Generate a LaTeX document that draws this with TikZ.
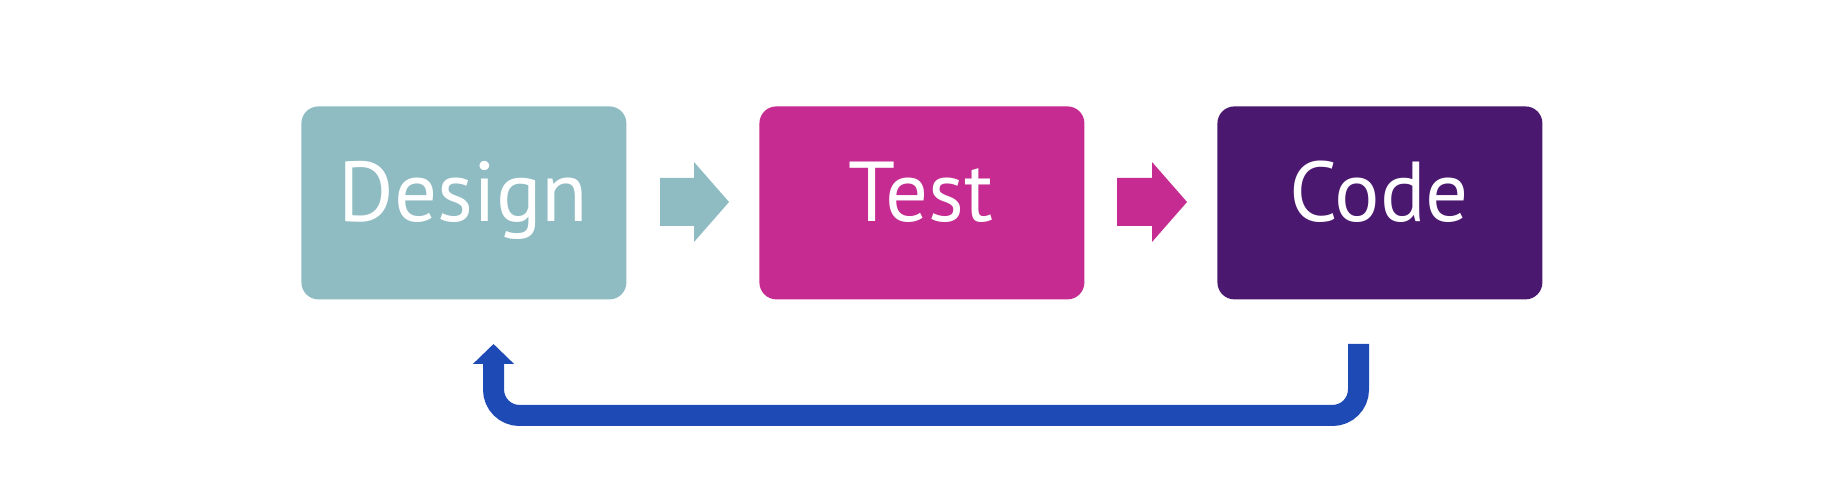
\documentclass[tikz,border=0pt]{standalone}
\usepackage{fontspec}
\setmainfont{PT Sans}
\usetikzlibrary{arrows.meta}
\definecolor{cteal}{HTML}{8FBBC2}
\definecolor{cmag}{HTML}{C52B90}
\definecolor{cpurp}{HTML}{4A186F}
\definecolor{cblue}{HTML}{1E4AB5}
\begin{document}
\begin{tikzpicture}[x=0.5pt,y=-0.5pt,
  stagebox/.style={rounded corners=8.5pt, inner sep=0pt, minimum width=162.5pt, minimum height=96.5pt, anchor=north west},
  lbl/.style={text=white, font=\fontsize{42.5pt}{48pt}\selectfont, anchor=base, inner sep=0pt}]
\useasboundingbox (0,0) rectangle (1830,490);
\node[stagebox, fill=cteal] (design) at (301,106) {};
\node[stagebox, fill=cmag] (test) at (759,106) {};
\node[stagebox, fill=cpurp] (code) at (1217,106) {};
\node[lbl] (tdesign) at (463.5,222) {Design};
\node[lbl] (ttest) at (921,222) {Test};
\node[lbl] (tcode) at (1379,222) {Code};
% block arrows
\fill[cteal] (660,178) -- (694,178) -- (694,162) -- (729,202) -- (694,242) -- (694,226) -- (660,226) -- cycle;
\fill[cmag] (1117,178) -- (1152,178) -- (1152,162) -- (1187,202) -- (1152,242) -- (1152,226) -- (1117,226) -- cycle;
% loop
\coordinate (ls) at (1358.5,344);
\coordinate (le) at (493.5,344);
\draw[cblue, line width=10.5pt, rounded corners=13pt, -{Triangle[width=20pt,length=10pt]}]
  (ls) -- (1358.5,415.5) -- (493.5,415.5) -- (le);
\end{tikzpicture}
\end{document}
